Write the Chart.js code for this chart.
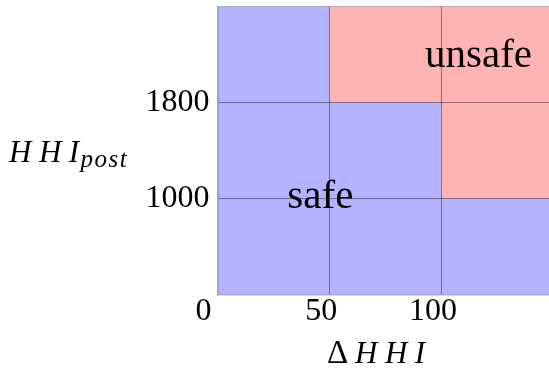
<!DOCTYPE html>
<html>
<head>
<meta charset="utf-8">
<script src="https://cdn.jsdelivr.net/npm/chart.js@4.4.1/dist/chart.umd.min.js"></script>
<style>
  html, body { margin: 0; padding: 0; background: #fff; }
  #wrap { width: 549px; height: 368px; }
</style>
</head>
<body>
<div id="wrap"><canvas id="c" width="549" height="368"></canvas></div>
<script>
// ── DATA ──────────────────────────────────────────────
// grid is schematic: every threshold band takes one equal step
const deltaTicks = ['0', '50', '100'];          // ΔHHI thresholds
const postTicks  = ['0', '1000', '1800'];       // HHI_post thresholds
const deltaBands = [0.5, 1.5, 2.5];             // band centres (step units)
const bandHeight = [1, 1, 1];
const rowLow     = ['safe', 'safe', 'safe'];    // HHI_post < 1000
const rowMid     = ['safe', 'safe', 'unsafe'];  // 1000 – 1800
const rowHigh    = ['safe', 'unsafe', 'unsafe'];// > 1800
const zoneLabels = [
  { text: 'safe',   x: 0.92, y: 0.905 },
  { text: 'unsafe', x: 2.335, y: 2.37 },
];

const COLORS = { safe: '#b3b3ff', unsafe: '#ffb3b3' };
const SERIF  = "'Liberation Serif', 'Times New Roman', serif";

function rowDataset(row) {
  return {
    data: deltaBands.map((x, i) => ({ x, y: bandHeight[i] })),
    backgroundColor: row.map(s => COLORS[s]),
    borderWidth: 0,
    barPercentage: 1, categoryPercentage: 1,
  };
}

// ── TEXT HELPER ───────────────────────────────────────
function spaced(ctx, txt, x, y, extra) {
  for (const ch of txt) {
    ctx.fillText(ch, x, y);
    x += ctx.measureText(ch).width + extra;
  }
  return x;
}

// ── ANNOTATIONS (zone names, axis titles, origin) ─────
const annotate = {
  id: 'annotate',
  afterDraw(chart) {
    const { ctx, scales: { x, y } } = chart;
    ctx.save();
    ctx.fillStyle = '#000';
    ctx.textBaseline = 'alphabetic';

    ctx.font = `41px ${SERIF}`;
    ctx.textAlign = 'center';
    zoneLabels.forEach(l => ctx.fillText(l.text, x.getPixelForValue(l.x), y.getPixelForValue(l.y)));

    // origin label shared by both axes
    ctx.font = `32px ${SERIF}`;
    ctx.fillText(deltaTicks[0], x.getPixelForValue(0) - 14, y.getPixelForValue(0) + 25.5);

    ctx.textAlign = 'left';
    // x title: ΔHHI
    ctx.font = `33px ${SERIF}`;
    ctx.fillText('Δ', 327, 363);
    ctx.font = `italic 31px ${SERIF}`;
    spaced(ctx, 'HHI', 355, 363, 7.5);

    // y title: HHI_post
    let px = spaced(ctx, 'HHI', 9, 161.5, 7.5);
    ctx.font = `italic 25px ${SERIF}`;
    spaced(ctx, 'post', px - 6, 167, 1.5);
    ctx.restore();
  }
};

// ── CHART ─────────────────────────────────────────────
const gridColor = (edge) => (c) =>
  (c.tick && edge.includes(c.tick.value)) ? 'rgba(0,0,0,0.25)' : 'rgba(0,0,0,0.42)';

new Chart(document.getElementById('c').getContext('2d'), {
  type: 'bar',
  data: { datasets: [rowDataset(rowLow), rowDataset(rowMid), rowDataset(rowHigh)] },
  options: {
    responsive: false, animation: false,
    layout: { padding: { top: 6.5, left: 0, right: 0, bottom: 0 } },
    plugins: { legend: { display: false }, tooltip: { enabled: false } },
    scales: {
      x: {
        type: 'linear', min: 0, max: 2.965, offset: false, stacked: true,
        afterBuildTicks: s => { s.ticks = [1, 2].map(v => ({ value: v })); },
        afterFit: s => { s.height = 73.5; s.paddingLeft = 0; s.paddingRight = 0; },
        ticks: {
          callback: v => deltaTicks[v] ?? '',
          font: { family: SERIF, size: 32 }, color: '#000',
          padding: -2, labelOffset: -8, maxRotation: 0,
        },
        grid: { color: gridColor([]), lineWidth: 1, drawTicks: false, offset: false, z: 1 },
        border: { display: true, color: 'rgba(0,0,0,0.25)', width: 1.5, z: 1 },
      },
      y: {
        type: 'linear', min: 0, max: 3, stacked: true,
        afterBuildTicks: s => { s.ticks = [1, 2, 3].map(v => ({ value: v })); },
        afterFit: s => { s.width = 217.5; s.paddingTop = 0; s.paddingBottom = 0; },
        ticks: {
          callback: v => postTicks[v] ?? '',
          font: { family: SERIF, size: 32 }, color: '#000', padding: 8,
        },
        grid: { color: gridColor([3]), lineWidth: 1, drawTicks: false, z: 1 },
        border: { display: true, color: 'rgba(0,0,0,0.25)', width: 1.5, z: 1 },
      },
    },
  },
  plugins: [annotate],
});
</script>
</body>
</html>
